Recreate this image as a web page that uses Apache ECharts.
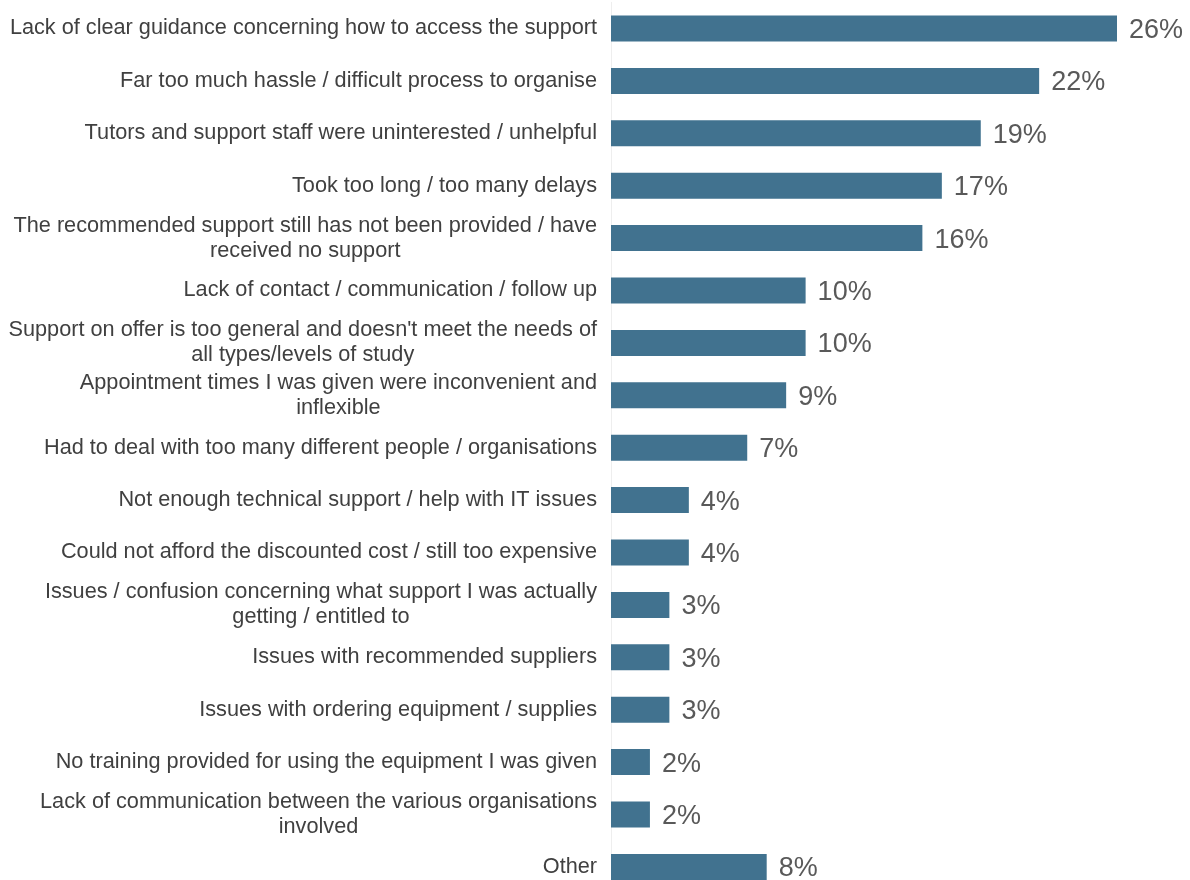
<!DOCTYPE html>
<html>
<head>
<meta charset="utf-8">
<script src="https://cdn.jsdelivr.net/npm/echarts@6/dist/echarts.min.js"></script>
<style>
  html, body { margin: 0; padding: 0; background: #ffffff; }
  #chart { width: 1190px; height: 880px; }
</style>
</head>
<body>
<div id="chart"></div>
<script>
// Reasons for dissatisfaction with support (share of respondents, %)
const categories = [
  "Lack of clear guidance concerning how to access the support",
  "Far too much hassle / difficult process to organise",
  "Tutors and support staff were uninterested / unhelpful",
  "Took too long / too many delays",
  "The recommended support still has not been provided / have\nreceived no support",
  "Lack of contact / communication / follow up",
  "Support on offer is too general and doesn't meet the needs of\nall types/levels of study",
  "Appointment times I was given were inconvenient and\ninflexible",
  "Had to deal with too many different people / organisations",
  "Not enough technical support / help with IT issues",
  "Could not afford the discounted cost / still too expensive",
  "Issues / confusion concerning what support I was actually\ngetting / entitled to",
  "Issues with recommended suppliers",
  "Issues with ordering equipment / supplies",
  "No training provided for using the equipment I was given",
  "Lack of communication between the various organisations\ninvolved",
  "Other"
];
const values = [26, 22, 19, 17, 16, 10, 10, 9, 7, 4, 4, 3, 3, 3, 2, 2, 8];

const FONT = 'Liberation Sans, Arial, sans-serif';

const chart = echarts.init(document.getElementById('chart'), null, { renderer: 'canvas' });
chart.setOption({
  animation: false,
  backgroundColor: '#ffffff',
  textStyle: { fontFamily: FONT },
  grid: {
    left: 611, right: 73, top: 2.3, height: 890.8,
    containLabel: false,
    outerBoundsMode: 'none'
  },
  xAxis: {
    type: 'value',
    min: 0,
    max: 26,
    show: false
  },
  yAxis: {
    type: 'category',
    data: categories,
    inverse: true,
    axisLine: { show: true, lineStyle: { color: '#eeeeee', width: 1 } },
    axisTick: { show: false },
    splitLine: { show: false },
    axisLabel: {
      margin: 14,
      align: 'right',
      // each line is centred within the right-aligned label block
      formatter: v => v.split('\n').map(s => '{c|' + s + '}').join('\n'),
      rich: {
        c: {
          align: 'center',
          color: '#404040',
          fontSize: 21.7,
          lineHeight: 25,
          fontFamily: FONT
        }
      }
    }
  },
  series: [{
    type: 'bar',
    data: values,
    barWidth: 26,
    itemStyle: { color: '#41728f' },
    label: {
      show: true,
      position: 'right',
      distance: 12,
      offset: [0, 2],
      formatter: p => p.value + '%',
      color: '#595959',
      fontSize: 27,
      fontFamily: FONT
    }
  }]
});
</script>
</body>
</html>
